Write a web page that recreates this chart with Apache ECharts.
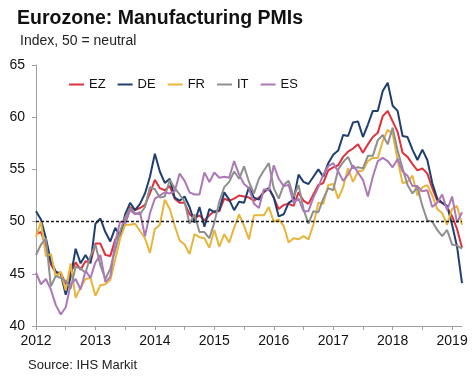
<!DOCTYPE html>
<html>
<head>
<meta charset="utf-8">
<script src="https://cdn.jsdelivr.net/npm/echarts@6/dist/echarts.min.js"></script>
<style>
html,body{margin:0;padding:0;background:#fff;}
#c{width:474px;height:379px;}
</style>
</head>
<body>
<div id="c"></div>
<script>
const titleText = 'Eurozone: Manufacturing PMIs';
const subtitleText = 'Index, 50 = neutral';
const sourceText = 'Source: IHS Markit';

const years = [2012, 2013, 2014, 2015, 2016, 2017, 2018, 2019];
const monthCodes = ['01','02','03','04','05','06','07','08','09','10','11','12'];
const lastMonthCount = 87; // Jan 2012 .. Mar 2019

const seriesNames = ['EZ', 'DE', 'FR', 'IT', 'ES'];

const EZ = [
  48.8, 49.0, 47.7, 45.9, 45.1, 45.1, 44.0, 45.1, 46.1, 45.4, 46.2, 46.1,
  47.9, 47.9, 46.8, 46.7, 48.3, 48.8, 50.3, 51.4, 51.1, 51.3, 51.6, 52.7,
  54.0, 53.2, 53.0, 53.4, 52.2, 51.8, 51.8, 50.7, 50.3, 50.6, 50.1, 50.6,
  51.0, 51.0, 52.2, 52.0, 52.2, 52.5, 52.4, 52.3, 52.0, 52.3, 52.8, 53.2,
  52.3, 51.2, 51.6, 51.7, 51.5, 52.8, 52.0, 51.7, 52.6, 53.5, 53.7, 54.9,
  55.2, 55.4, 56.2, 56.7, 57.0, 57.4, 56.6, 57.4, 58.1, 58.5, 60.1, 60.6,
  59.6, 58.6, 56.6, 56.2, 55.5, 54.9, 55.1, 54.6, 53.2, 52.0, 51.8, 51.4,
  50.5, 49.3, 47.5
];
const DE = [
  51.0, 50.2, 48.4, 46.2, 45.2, 45.0, 43.0, 44.7, 47.4, 46.0, 46.8, 46.0,
  49.8, 50.3, 49.0, 48.1, 49.4, 48.6, 50.7, 51.8, 51.1, 51.7, 52.7, 54.3,
  56.5, 54.8, 53.7, 54.1, 52.3, 52.0, 52.4, 51.4, 49.9, 51.4, 49.5, 51.2,
  50.9, 51.1, 52.8, 52.1, 51.1, 51.9, 51.8, 53.3, 52.3, 52.1, 52.9, 53.2,
  52.3, 50.5, 50.7, 51.8, 52.1, 54.5, 53.8, 53.6, 54.3, 55.0, 54.3, 55.6,
  56.4, 56.8, 58.3, 58.2, 59.5, 59.6, 58.1, 59.3, 60.6, 60.6, 62.5, 63.3,
  61.1, 60.6, 58.2, 58.1, 56.9, 55.9, 56.9, 55.9, 53.7, 52.2, 51.8, 51.5,
  49.7, 47.6, 44.1
];
const FR = [
  48.5, 50.0, 46.7, 46.9, 44.7, 45.2, 43.4, 46.0, 42.7, 43.7, 44.5, 44.6,
  42.9, 43.9, 44.0, 44.4, 46.4, 48.4, 49.7, 49.7, 49.8, 49.1, 48.4, 47.0,
  49.3, 49.7, 52.1, 51.2, 49.6, 48.2, 47.8, 46.9, 48.8, 48.5, 48.4, 47.5,
  49.2, 47.6, 48.8, 48.0, 49.4, 50.7, 49.6, 48.3, 50.6, 50.6, 50.6, 51.4,
  50.0, 50.2, 49.6, 48.0, 48.4, 48.3, 48.6, 48.3, 49.7, 51.8, 51.7, 53.5,
  53.6, 52.2, 53.3, 55.1, 53.8, 54.8, 54.9, 55.8, 56.1, 56.1, 57.7, 58.8,
  58.4, 55.9, 53.7, 53.8, 54.4, 52.5, 53.3, 53.5, 52.5, 51.2, 50.8, 49.7,
  51.2, 51.5, 49.7
];
const IT = [
  46.8, 47.8, 48.4, 43.8, 44.8, 44.6, 44.3, 43.6, 45.7, 45.5, 45.1, 46.7,
  47.8, 45.8, 44.5, 45.5, 47.3, 49.1, 50.4, 51.3, 50.8, 50.7, 51.4, 53.3,
  53.1, 52.3, 52.4, 54.0, 53.2, 52.6, 51.9, 49.8, 50.7, 49.0, 49.0, 48.4,
  49.9, 51.9, 53.3, 53.8, 54.8, 54.1, 55.3, 53.8, 52.7, 54.1, 54.9, 55.6,
  53.2, 52.2, 53.5, 53.9, 52.4, 53.5, 51.2, 49.8, 51.0, 50.9, 52.2, 53.2,
  53.0, 55.0, 55.7, 56.2, 55.1, 55.2, 55.1, 56.3, 56.3, 57.8, 58.3, 57.4,
  59.0, 56.8, 55.1, 53.5, 52.7, 53.3, 51.5, 50.1, 50.0, 49.2, 48.6, 49.2,
  47.8, 47.7, 47.4
];
const ES = [
  45.1, 44.0, 44.5, 43.5, 42.0, 41.1, 41.8, 44.0, 44.5, 43.5, 45.3, 44.6,
  46.1, 46.8, 44.2, 44.7, 48.1, 50.0, 49.8, 51.1, 50.7, 50.9, 48.6, 50.8,
  52.2, 52.5, 52.8, 52.7, 52.9, 54.6, 53.9, 52.8, 52.6, 52.6, 54.7, 53.8,
  54.7, 54.2, 54.3, 54.2, 55.8, 54.5, 53.6, 53.2, 51.7, 51.3, 53.1, 53.0,
  55.4, 54.1, 53.4, 53.5, 51.8, 52.2, 51.0, 51.0, 52.3, 53.3, 54.5, 55.3,
  55.6, 54.8, 53.9, 54.5, 55.4, 54.7, 54.0, 52.4, 54.3, 55.8, 56.1, 55.8,
  55.2, 56.0, 54.8, 54.4, 53.4, 53.4, 52.9, 53.0, 51.4, 51.8, 52.6, 51.1,
  52.4, 49.9, 50.9
];
const neutralLevel = 50;
const yTicks = [40, 45, 50, 55, 60, 65];

const categories = [];
years.forEach(y => monthCodes.forEach(m => {
  if (categories.length < lastMonthCount) categories.push(y + '-' + m);
}));

const colors = {
  EZ: '#e0303a',
  DE: '#1f3f6e',
  FR: '#e8b53a',
  IT: '#8f8f8f',
  ES: '#ad78b6'
};
const dataMap = { EZ, DE, FR, IT, ES };
const FONT = '"Liberation Sans", Arial, sans-serif';

const chart = echarts.init(document.getElementById('c'), null, { renderer: 'canvas' });

const series = seriesNames.map((name, i) => {
  const s = {
    name: name,
    type: 'line',
    data: dataMap[name],
    symbol: 'none',
    showSymbol: false,
    smooth: false,
    lineStyle: { width: 2, color: colors[name] },
    itemStyle: { color: colors[name] },
    emphasis: { disabled: true },
    z: 2 + i
  };
  if (i === 0) {
    s.markLine = {
      silent: true,
      symbol: ['none', 'none'],
      label: { show: false },
      lineStyle: { color: '#1a1a1a', type: [3, 2], width: 1.3 },
      data: [{ yAxis: neutralLevel }],
      z: 10
    };
  }
  return s;
});

chart.setOption({
  animation: false,
  backgroundColor: '#fff',
  textStyle: { fontFamily: FONT },
  title: {
    text: titleText,
    left: 12,
    top: 4,
    textStyle: { fontFamily: FONT, fontSize: 19.5, fontWeight: 'bold', color: '#111' }
  },
  graphic: [
    {
      type: 'text', left: 20, top: 34,
      style: { text: subtitleText, font: '14px ' + FONT, fill: '#222' }
    },
    {
      type: 'text', left: 28, top: 359,
      style: { text: sourceText, font: '13px ' + FONT, fill: '#222' }
    }
  ],
  legend: {
    data: seriesNames,
    left: 64,
    top: 73,
    itemWidth: 15,
    itemHeight: 2,
    itemGap: 12,
    icon: 'rect',
    textStyle: { fontFamily: FONT, fontSize: 13, color: '#111' }
  },
  grid: { left: 36, right: 12, top: 65, bottom: 53, containLabel: false },
  xAxis: {
    type: 'category',
    data: categories,
    boundaryGap: false,
    axisLine: { show: true, lineStyle: { color: '#a0a0a0', width: 1 } },
    axisTick: {
      show: true,
      length: 4,
      interval: (idx) => idx % 6 === 0,
      lineStyle: { color: '#a0a0a0' }
    },
    axisLabel: {
      interval: (idx) => idx % 12 === 0,
      formatter: (v) => v.slice(0, 4),
      fontFamily: FONT,
      fontSize: 14,
      color: '#111',
      margin: 8
    },
    splitLine: { show: false }
  },
  yAxis: {
    type: 'value',
    min: yTicks[0],
    max: yTicks[yTicks.length - 1],
    interval: 5,
    axisLine: { show: true, lineStyle: { color: '#a0a0a0', width: 1 } },
    axisTick: { show: true, length: 4, lineStyle: { color: '#a0a0a0' } },
    axisLabel: { fontFamily: FONT, fontSize: 14, color: '#111', margin: 11 },
    splitLine: { show: false }
  },
  series: series
});
</script>
</body>
</html>
